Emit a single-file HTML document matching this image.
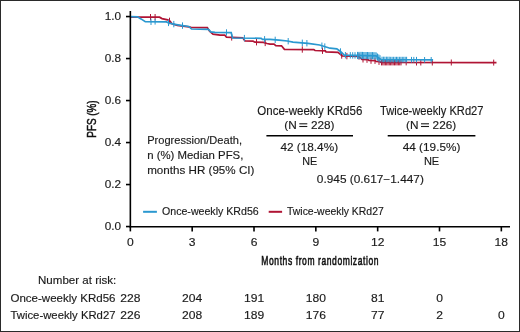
<!DOCTYPE html>
<html><head><meta charset="utf-8"><style>
html,body{margin:0;padding:0;background:#fff;}
body{width:520px;height:332px;overflow:hidden;}
.f{position:absolute;left:0;top:0;width:518px;height:330px;border:1px solid #2a2a2a;}
svg{position:absolute;left:0;top:0;will-change:transform;}
text{font-family:"Liberation Sans",sans-serif;fill:#1a1a1a;stroke:#1a1a1a;stroke-width:0.15px;}
</style></head><body>
<div class="f"></div>
<svg width="520" height="332" viewBox="0 0 520 332">
<text transform="translate(121,230.45) scale(1.07,1)" font-size="11" text-anchor="end">0.0</text>
<text transform="translate(121,188.45) scale(1.07,1)" font-size="11" text-anchor="end">0.2</text>
<text transform="translate(121,146.45) scale(1.07,1)" font-size="11" text-anchor="end">0.4</text>
<text transform="translate(121,104.45) scale(1.07,1)" font-size="11" text-anchor="end">0.6</text>
<text transform="translate(121,62.45) scale(1.07,1)" font-size="11" text-anchor="end">0.8</text>
<text transform="translate(121,20.45) scale(1.07,1)" font-size="11" text-anchor="end">1.0</text>
<text transform="translate(130.35,245.8) scale(1.1,1)" font-size="11" text-anchor="middle">0</text>
<text transform="translate(192.18,245.8) scale(1.1,1)" font-size="11" text-anchor="middle">3</text>
<text transform="translate(254.01,245.8) scale(1.1,1)" font-size="11" text-anchor="middle">6</text>
<text transform="translate(315.84,245.8) scale(1.1,1)" font-size="11" text-anchor="middle">9</text>
<text transform="translate(377.67,245.8) scale(1.1,1)" font-size="11" text-anchor="middle">12</text>
<text transform="translate(439.50,245.8) scale(1.1,1)" font-size="11" text-anchor="middle">15</text>
<text transform="translate(501.33,245.8) scale(1.1,1)" font-size="11" text-anchor="middle">18</text>
<text transform="translate(320.2,265.3) scale(0.64,1)" font-size="13.3" text-anchor="middle" letter-spacing="0.92" style="fill:#111;stroke:#111;stroke-width:0.6">Months from randomization</text>
<text transform="translate(96.2,119) rotate(-90)" font-size="13" style="fill:#111;stroke:#111;stroke-width:0.5" text-anchor="middle" textLength="37.3" lengthAdjust="spacingAndGlyphs">PFS (%)</text>
<path d="M130.3,17.1 L159.5,17.2 L162.0,18.6 L167.7,19.8 L170.0,21.2 L172.0,23.8 L177.3,25.3 L188.8,26.8 L191.0,27.3 L207.3,27.6 L209.6,31.3 L213.0,34.2 L220.0,35.2 L224.8,35.2 L226.5,37.2 L242.7,37.8 L245.0,41.0 L253.0,41.2 L255.0,42.2 L263.5,42.4 L267.0,43.5 L270.0,44.1 L274.0,44.2 L275.8,45.6 L281.5,45.8 L284.4,49.4 L313.8,49.6 L315.0,50.5 L325.4,50.8 L326.0,51.9 L338.0,52.3 L342.3,56.0 L359.0,56.5 L362.0,59.3 L368.0,59.6 L369.0,60.5 L375.0,60.7 L376.0,61.5 L380.0,61.7 L381.0,62.4 L496.5,62.6" fill="none" stroke="#b01434" stroke-width="1.7"/>
<g stroke="#b01434" stroke-width="1.0"><line x1="150.5" y1="14.0" x2="150.5" y2="20.4"/><line x1="155.1" y1="14.0" x2="155.1" y2="20.4"/><line x1="169.5" y1="17.7" x2="169.5" y2="24.1"/><line x1="231.7" y1="34.2" x2="231.7" y2="40.6"/><line x1="256.5" y1="39.0" x2="256.5" y2="45.4"/><line x1="265.2" y1="39.7" x2="265.2" y2="46.1"/><line x1="302.3" y1="46.3" x2="302.3" y2="52.7"/><line x1="322.5" y1="47.5" x2="322.5" y2="53.9"/><line x1="341.7" y1="52.3" x2="341.7" y2="58.7"/><line x1="346.9" y1="52.9" x2="346.9" y2="59.3"/><line x1="359.0" y1="53.3" x2="359.0" y2="59.7"/><line x1="363.0" y1="56.1" x2="363.0" y2="62.5"/><line x1="367.0" y1="56.3" x2="367.0" y2="62.8"/><line x1="371.0" y1="57.4" x2="371.0" y2="63.8"/><line x1="375.0" y1="57.5" x2="375.0" y2="63.9"/><line x1="379.0" y1="58.5" x2="379.0" y2="64.9"/><line x1="381.5" y1="59.4" x2="381.5" y2="65.4"/><line x1="382.8" y1="59.4" x2="382.8" y2="65.4"/><line x1="384.1" y1="59.4" x2="384.1" y2="65.4"/><line x1="385.4" y1="59.4" x2="385.4" y2="65.4"/><line x1="386.7" y1="59.4" x2="386.7" y2="65.4"/><line x1="388.0" y1="59.4" x2="388.0" y2="65.4"/><line x1="389.3" y1="59.4" x2="389.3" y2="65.4"/><line x1="390.6" y1="59.4" x2="390.6" y2="65.4"/><line x1="391.9" y1="59.4" x2="391.9" y2="65.4"/><line x1="393.2" y1="59.4" x2="393.2" y2="65.4"/><line x1="394.5" y1="59.4" x2="394.5" y2="65.4"/><line x1="395.8" y1="59.4" x2="395.8" y2="65.4"/><line x1="397.1" y1="59.4" x2="397.1" y2="65.4"/><line x1="398.4" y1="59.4" x2="398.4" y2="65.4"/><line x1="399.7" y1="59.4" x2="399.7" y2="65.4"/><line x1="401.0" y1="59.4" x2="401.0" y2="65.4"/><line x1="406.2" y1="59.4" x2="406.2" y2="65.4"/><line x1="416.5" y1="59.5" x2="416.5" y2="65.5"/><line x1="420.8" y1="59.5" x2="420.8" y2="65.5"/><line x1="432.3" y1="59.5" x2="432.3" y2="65.5"/><line x1="451.3" y1="59.5" x2="451.3" y2="65.5"/><line x1="493.7" y1="59.6" x2="493.7" y2="65.6"/></g>
<path d="M130.3,16.7 L137.5,16.8 L141.0,18.9 L145.3,21.7 L166.5,21.9 L169.2,23.2 L175.0,24.3 L180.8,25.3 L188.8,26.5 L191.5,29.0 L208.5,29.4 L210.8,31.9 L215.0,32.4 L231.2,32.6 L232.5,38.0 L261.2,38.3 L262.5,39.3 L270.0,39.4 L279.0,40.2 L287.3,41.0 L293.0,42.1 L308.0,43.3 L319.6,45.0 L326.0,47.0 L330.0,48.2 L336.8,48.9 L340.5,51.5 L344.2,55.2 L376.0,55.8 L378.0,57.5 L381.0,59.5 L433.1,59.8" fill="none" stroke="#2a98d0" stroke-width="1.7"/>
<g stroke="#2a98d0" stroke-width="1.0"><line x1="155.1" y1="19.0" x2="155.1" y2="24.6"/><line x1="168.5" y1="19.7" x2="168.5" y2="26.1"/><line x1="151.0" y1="18.6" x2="151.0" y2="25.0"/><line x1="173.8" y1="20.9" x2="173.8" y2="27.3"/><line x1="182.5" y1="22.4" x2="182.5" y2="28.8"/><line x1="226.5" y1="29.3" x2="226.5" y2="35.7"/><line x1="244.4" y1="34.9" x2="244.4" y2="41.3"/><line x1="264.6" y1="36.1" x2="264.6" y2="42.5"/><line x1="275.2" y1="36.7" x2="275.2" y2="43.1"/><line x1="288.2" y1="38.0" x2="288.2" y2="44.4"/><line x1="302.3" y1="39.6" x2="302.3" y2="46.0"/><line x1="306.9" y1="40.0" x2="306.9" y2="46.4"/><line x1="321.9" y1="42.5" x2="321.9" y2="48.9"/><line x1="324.8" y1="43.4" x2="324.8" y2="49.8"/><line x1="340.5" y1="48.3" x2="340.5" y2="54.7"/><line x1="345.4" y1="52.0" x2="345.4" y2="58.4"/><line x1="350.3" y1="52.1" x2="350.3" y2="58.5"/><line x1="352.7" y1="52.2" x2="352.7" y2="58.6"/><line x1="355.0" y1="52.2" x2="355.0" y2="58.6"/><line x1="357.5" y1="51.9" x2="357.5" y2="59.1"/><line x1="358.8" y1="51.9" x2="358.8" y2="59.1"/><line x1="360.0" y1="51.9" x2="360.0" y2="59.1"/><line x1="361.2" y1="51.9" x2="361.2" y2="59.1"/><line x1="362.5" y1="51.9" x2="362.5" y2="59.1"/><line x1="363.8" y1="52.0" x2="363.8" y2="59.2"/><line x1="365.0" y1="52.0" x2="365.0" y2="59.2"/><line x1="366.2" y1="52.0" x2="366.2" y2="59.2"/><line x1="367.5" y1="52.0" x2="367.5" y2="59.2"/><line x1="368.8" y1="52.1" x2="368.8" y2="59.3"/><line x1="370.0" y1="52.1" x2="370.0" y2="59.3"/><line x1="371.2" y1="52.1" x2="371.2" y2="59.3"/><line x1="372.5" y1="52.1" x2="372.5" y2="59.3"/><line x1="373.8" y1="52.2" x2="373.8" y2="59.4"/><line x1="375.0" y1="52.2" x2="375.0" y2="59.4"/><line x1="376.2" y1="52.4" x2="376.2" y2="59.6"/><line x1="377.5" y1="53.5" x2="377.5" y2="60.7"/><line x1="378.8" y1="54.4" x2="378.8" y2="61.6"/><line x1="380.0" y1="55.2" x2="380.0" y2="62.4"/><line x1="382.0" y1="56.7" x2="382.0" y2="62.3"/><line x1="383.4" y1="56.7" x2="383.4" y2="62.3"/><line x1="384.9" y1="56.7" x2="384.9" y2="62.3"/><line x1="386.4" y1="56.7" x2="386.4" y2="62.3"/><line x1="387.8" y1="56.7" x2="387.8" y2="62.3"/><line x1="389.2" y1="56.7" x2="389.2" y2="62.3"/><line x1="390.7" y1="56.8" x2="390.7" y2="62.4"/><line x1="392.1" y1="56.8" x2="392.1" y2="62.4"/><line x1="393.6" y1="56.8" x2="393.6" y2="62.4"/><line x1="395.1" y1="56.8" x2="395.1" y2="62.4"/><line x1="396.5" y1="56.8" x2="396.5" y2="62.4"/><line x1="397.9" y1="56.8" x2="397.9" y2="62.4"/><line x1="399.4" y1="56.8" x2="399.4" y2="62.4"/><line x1="400.9" y1="56.8" x2="400.9" y2="62.4"/><line x1="402.3" y1="56.8" x2="402.3" y2="62.4"/><line x1="403.8" y1="56.8" x2="403.8" y2="62.4"/><line x1="405.2" y1="56.8" x2="405.2" y2="62.4"/><line x1="406.6" y1="56.8" x2="406.6" y2="62.4"/><line x1="411.5" y1="56.9" x2="411.5" y2="62.5"/><line x1="413.8" y1="56.9" x2="413.8" y2="62.5"/><line x1="416.5" y1="56.9" x2="416.5" y2="62.5"/><line x1="424.6" y1="57.0" x2="424.6" y2="62.6"/><line x1="431.2" y1="57.0" x2="431.2" y2="62.6"/></g>
<g stroke="#000" stroke-width="1.6" fill="none">
<line x1="130.35" y1="11" x2="130.35" y2="227.4"/>
<line x1="129.54999999999998" y1="226.75" x2="510" y2="226.75"/>
<line x1="126" y1="226.55" x2="130.35" y2="226.55"/>
<line x1="126" y1="184.55" x2="130.35" y2="184.55"/>
<line x1="126" y1="142.55" x2="130.35" y2="142.55"/>
<line x1="126" y1="100.55" x2="130.35" y2="100.55"/>
<line x1="126" y1="58.55" x2="130.35" y2="58.55"/>
<line x1="126" y1="16.55" x2="130.35" y2="16.55"/>
<line x1="130.35" y1="226.55" x2="130.35" y2="231.4"/>
<line x1="192.18" y1="226.55" x2="192.18" y2="231.4"/>
<line x1="254.01" y1="226.55" x2="254.01" y2="231.4"/>
<line x1="315.84" y1="226.55" x2="315.84" y2="231.4"/>
<line x1="377.67" y1="226.55" x2="377.67" y2="231.4"/>
<line x1="439.50" y1="226.55" x2="439.50" y2="231.4"/>
<line x1="501.33" y1="226.55" x2="501.33" y2="231.4"/>
</g>
<text x="309.8" y="114.9" font-size="12" text-anchor="middle" textLength="105" lengthAdjust="spacingAndGlyphs">Once-weekly KRd56</text>
<text x="431.8" y="114.9" font-size="12" text-anchor="middle" textLength="103.4" lengthAdjust="spacingAndGlyphs">Twice-weekly KRd27</text>
<text x="284.30" y="128.6" font-size="11.8" text-anchor="start">(N</text>
<g stroke="#1a1a1a" stroke-width="1.1"><line x1="299.30" y1="123.8" x2="307.30" y2="123.8"/><line x1="299.30" y1="126.5" x2="307.30" y2="126.5"/></g>
<text x="310.90" y="128.6" font-size="11.8" text-anchor="start" textLength="23.6" lengthAdjust="spacingAndGlyphs">228)</text>
<text x="406.00" y="128.6" font-size="11.8" text-anchor="start">(N</text>
<g stroke="#1a1a1a" stroke-width="1.1"><line x1="421.00" y1="123.8" x2="429.00" y2="123.8"/><line x1="421.00" y1="126.5" x2="429.00" y2="126.5"/></g>
<text x="432.60" y="128.6" font-size="11.8" text-anchor="start" textLength="23.6" lengthAdjust="spacingAndGlyphs">226)</text>
<g stroke="#000" stroke-width="1.4"><line x1="266.4" y1="135.8" x2="353" y2="135.8"/><line x1="387.7" y1="135.8" x2="475.4" y2="135.8"/></g>
<text x="309.25" y="150.5" font-size="11.5" text-anchor="middle" textLength="57.7" lengthAdjust="spacingAndGlyphs">42 (18.4%)</text>
<text x="431.55" y="150.5" font-size="11.5" text-anchor="middle" textLength="57.7" lengthAdjust="spacingAndGlyphs">44 (19.5%)</text>
<text x="309.8" y="164.8" font-size="11.5" text-anchor="middle" textLength="15" lengthAdjust="spacingAndGlyphs">NE</text>
<text x="431.55" y="164.8" font-size="11.5" text-anchor="middle" textLength="15.3" lengthAdjust="spacingAndGlyphs">NE</text>
<text x="370.35" y="182.8" font-size="11.5" text-anchor="middle" textLength="107" lengthAdjust="spacingAndGlyphs">0.945 (0.617−1.447)</text>
<text x="147.2" y="143.9" font-size="11.5" text-anchor="start" textLength="94.8" lengthAdjust="spacingAndGlyphs">Progression/Death,</text>
<text x="147.2" y="159.2" font-size="11.5" text-anchor="start" textLength="96.2" lengthAdjust="spacingAndGlyphs">n (%) Median PFS,</text>
<text x="147.2" y="173.9" font-size="11.5" text-anchor="start" textLength="107.2" lengthAdjust="spacingAndGlyphs">months HR (95% CI)</text>
<line x1="143.1" y1="211.8" x2="156.9" y2="211.8" stroke="#2a98d0" stroke-width="2"/>
<line x1="268.7" y1="211.8" x2="282.1" y2="211.8" stroke="#b01434" stroke-width="2"/>
<text x="162" y="215.2" font-size="10.8" text-anchor="start" textLength="96.75" lengthAdjust="spacingAndGlyphs">Once-weekly KRd56</text>
<text x="287" y="215.2" font-size="10.8" text-anchor="start" textLength="96.75" lengthAdjust="spacingAndGlyphs">Twice-weekly KRd27</text>
<text x="116.3" y="283.75" font-size="11.2" text-anchor="end" textLength="78.3" lengthAdjust="spacingAndGlyphs">Number at risk:</text>
<text x="115.5" y="301.6" font-size="11.2" text-anchor="end" textLength="105" lengthAdjust="spacingAndGlyphs">Once-weekly KRd56</text>
<text x="115.5" y="318.5" font-size="11.2" text-anchor="end" textLength="105" lengthAdjust="spacingAndGlyphs">Twice-weekly KRd27</text>
<text transform="translate(130.35,301.6) scale(1.1,1)" font-size="11" text-anchor="middle">228</text>
<text transform="translate(192.18,301.6) scale(1.1,1)" font-size="11" text-anchor="middle">204</text>
<text transform="translate(254.01,301.6) scale(1.1,1)" font-size="11" text-anchor="middle">191</text>
<text transform="translate(315.84,301.6) scale(1.1,1)" font-size="11" text-anchor="middle">180</text>
<text transform="translate(377.67,301.6) scale(1.1,1)" font-size="11" text-anchor="middle">81</text>
<text transform="translate(439.50,301.6) scale(1.1,1)" font-size="11" text-anchor="middle">0</text>
<text transform="translate(130.35,318.5) scale(1.1,1)" font-size="11" text-anchor="middle">226</text>
<text transform="translate(192.18,318.5) scale(1.1,1)" font-size="11" text-anchor="middle">208</text>
<text transform="translate(254.01,318.5) scale(1.1,1)" font-size="11" text-anchor="middle">189</text>
<text transform="translate(315.84,318.5) scale(1.1,1)" font-size="11" text-anchor="middle">176</text>
<text transform="translate(377.67,318.5) scale(1.1,1)" font-size="11" text-anchor="middle">77</text>
<text transform="translate(439.50,318.5) scale(1.1,1)" font-size="11" text-anchor="middle">2</text>
<text transform="translate(501.33,318.5) scale(1.1,1)" font-size="11" text-anchor="middle">0</text>
</svg>
</body></html>
